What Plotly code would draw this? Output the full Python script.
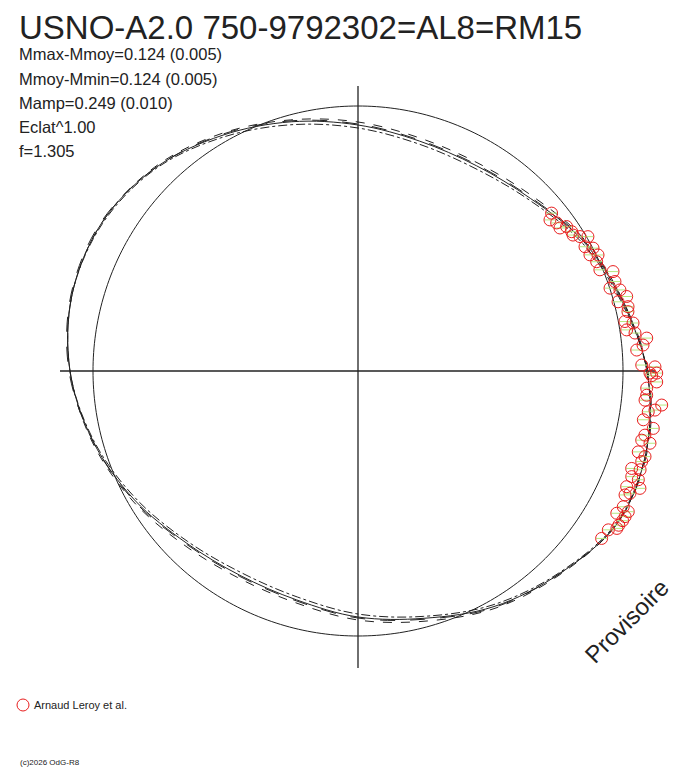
import numpy as np
import plotly.graph_objects as go

# polar light curve: angle = phase (deg), radius = brightness level (mean level = circle)
mean_level = 265
phase_model = list(range(0, 361, 15))
fit_solid = [289, 273, 260, 244, 237, 238, 246, 258, 272, 287, 296, 296, 288,
             274, 258, 243, 236, 237, 246, 256, 272, 286, 301, 299, 289]
fit_dash = [289, 274, 262, 247, 240, 241, 249, 260, 274, 288, 296, 296, 288,
            275, 260, 246, 239, 240, 249, 259, 274, 287, 301, 299, 289]
fit_dashdot = [289, 272, 258, 242, 234, 235, 243, 255, 270, 286, 295, 296, 288,
               273, 256, 241, 233, 234, 243, 254, 270, 285, 300, 299, 289]
fit_longdash = [290, 274, 261, 245, 238, 239, 247, 259, 273, 287, 297, 297, 289,
                274, 259, 244, 237, 238, 247, 257, 273, 286, 301, 300, 290]

# observations (Arnaud Leroy et al.)
obs_phase = [39.2, 38.2, 36.7, 35.3, 34.7, 33.1, 32.3, 31.2, 30.3, 28.7, 27.6, 26.6,
             25.8, 24.6, 22.7, 21.3, 19.2, 18.2, 17.2, 15.5, 14.9, 13.4, 12.4, 10.5,
             9.9, 8.7, 7.8, 6.5, 5.2, 4.3, 1.2, 0.8, -0.4, -0.4, -0.9, -2.1, -3.4,
             -4.8, -5.8, -6.4, -7.5, -8.0, -9.7, -11.0, -12.6, -13.7, -13.9, -16.1,
             -16.6, -17.7, -19.6, -19.3, -21.1, -21.2, -23.3, -22.6, -24.2, -24.9,
             -27.1, -27.5, -28.8, -28.6, -29.5, -31.3, -32.4, -34.5, -30.6]
obs_r = [249.8, 244.3, 247.8, 247.5, 253.7, 255.1, 254.4, 259.5, 266.3, 258.8, 265.2,
         259.4, 266.6, 262.5, 262.2, 273.7, 272.1, 265.3, 274.2, 278.8, 269.1, 277.6,
         276.4, 271.5, 279.2, 271.8, 279.6, 290.6, 286.2, 279.5, 283.8, 297.0, 292.0,
         298.7, 293.7, 298.9, 289.2, 289.7, 288.5, 305.6, 299.5, 293.1, 289.5, 300.8,
         294.0, 292.0, 300.8, 291.7, 299.5, 297.8, 290.5, 298.9, 293.4, 300.7, 292.5,
         305.4, 298.2, 294.4, 298.0, 304.7, 295.3, 304.2, 304.0, 303.0, 296.5, 295.6,
         303.0]

# cross axes (length along each direction)
axis_theta = [0, 90, 180, 270]
axis_len = [297, 285, 298, 297]

stats_lines = ["Mmax-Mmoy=0.124 (0.005)", "Mmoy-Mmin=0.124 (0.005)",
               "Mamp=0.249 (0.010)", "Eclat^1.00", "f=1.305"]
title_txt = "USNO-A2.0 750-9792302=AL8=RM15"
legend_txt = "Arnaud Leroy et al."
credit_txt = "(c)2026 OdG-R8"

FONT = "Liberation Sans, Arial, sans-serif"
PAD = 8                      # page body margin around the plot div
W, H = 688 - PAD, 768 - PAD
cx, cy, R = 358 - PAD, 371 - PAD, 330


def px(x):
    return (x - PAD) / W


def py(y):
    return 1 - (y - PAD) / H


fig = go.Figure()

# cross lines through the centre
fig.add_trace(go.Scatterpolar(r=[axis_len[0], 0, axis_len[2]],
                              theta=[axis_theta[0], 0, axis_theta[2]],
                              mode='lines', line=dict(color='#222', width=1.3),
                              showlegend=False, hoverinfo='skip'))
fig.add_trace(go.Scatterpolar(r=[axis_len[1], 0, axis_len[3]],
                              theta=[axis_theta[1], 0, axis_theta[3]],
                              mode='lines', line=dict(color='#222', width=1.3),
                              showlegend=False, hoverinfo='skip'))

# mean level circle
circ_theta = np.linspace(0, 360, 361)
fig.add_trace(go.Scatterpolar(r=[mean_level] * len(circ_theta), theta=circ_theta,
                              mode='lines', line=dict(color='#222', width=1),
                              showlegend=False, hoverinfo='skip'))

for rr, dash in [(fit_solid, 'solid'), (fit_dash, 'dash'),
                 (fit_dashdot, 'dashdot'), (fit_longdash, 'longdash')]:
    fig.add_trace(go.Scatterpolar(r=rr, theta=phase_model, mode='lines',
                                  line=dict(color='#222', width=1, dash=dash, shape='spline'),
                                  showlegend=False, hoverinfo='skip'))

red = 'rgb(232,30,30)'
fig.add_trace(go.Scatterpolar(r=obs_r, theta=obs_phase, mode='markers',
                              marker=dict(symbol='line-ew-open', size=8,
                                          line=dict(color=red, width=1)),
                              showlegend=False, cliponaxis=False, hoverinfo='skip'))
fig.add_trace(go.Scatterpolar(r=obs_r, theta=obs_phase, mode='markers',
                              name=' ',
                              marker=dict(symbol='circle-open', size=12, color=red,
                                          line=dict(color=red, width=1)),
                              cliponaxis=False))

fig.update_layout(
    width=W, height=H,
    margin=dict(l=0, r=0, t=0, b=0, autoexpand=False),
    paper_bgcolor='white',
    font=dict(family=FONT, color='#222'),
    polar=dict(
        domain=dict(x=[(cx - R) / W, (cx + R) / W],
                    y=[(H - cy - R) / H, (H - cy + R) / H]),
        bgcolor='white',
        radialaxis=dict(range=[0, R], visible=False),
        angularaxis=dict(visible=False, rotation=0, direction='counterclockwise'),
    ),
    legend=dict(x=px(3), y=py(705), xanchor='left', yanchor='middle',
                font=dict(size=10, family=FONT), bgcolor='rgba(0,0,0,0)'),
)

fig.add_annotation(text=title_txt, x=px(18), y=1, xref='paper', yref='paper',
                   xanchor='left', yanchor='top', showarrow=False, borderpad=0,
                   font=dict(size=33, family=FONT, color='#222'))
for i, s in enumerate(stats_lines):
    fig.add_annotation(text=s, x=px(18), y=py(54.2 + 24.3 * i),
                       xref='paper', yref='paper', xanchor='left', yanchor='middle',
                       showarrow=False, borderpad=0,
                       font=dict(size=16.5, family=FONT, color='#222'))
fig.add_annotation(text="Provisoire", x=px(626), y=py(621), xref='paper', yref='paper',
                   xanchor='center', yanchor='middle', textangle=-45, showarrow=False,
                   font=dict(size=24, family=FONT, color='#222'))
fig.add_annotation(text=legend_txt, x=px(32), y=py(705), xref='paper', yref='paper',
                   xanchor='left', yanchor='middle', showarrow=False,
                   font=dict(size=11, family=FONT, color='#222'))
fig.add_annotation(text=credit_txt, x=px(18), y=py(762), xref='paper', yref='paper',
                   xanchor='left', yanchor='middle', showarrow=False,
                   font=dict(size=8, family=FONT, color='#222'))

fig.write_html("out.html")
